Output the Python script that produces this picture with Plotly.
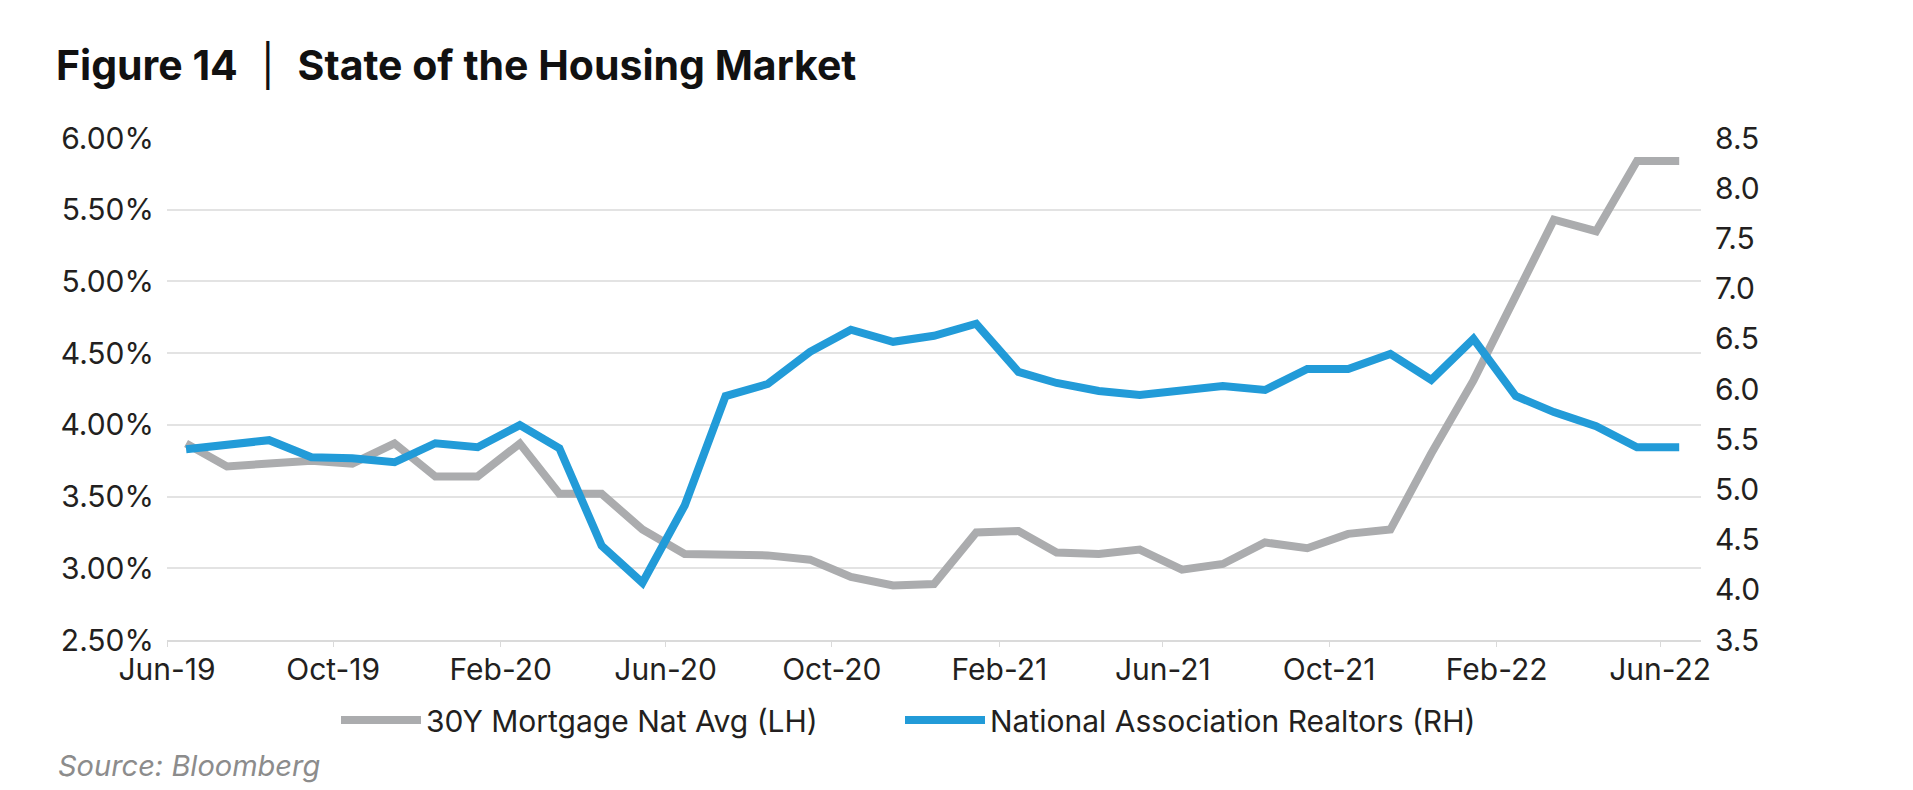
import plotly.graph_objects as go

# monthly observations, Jun-19 .. Jun-22 (plotted mid-month)
months = ['2019-06-15', '2019-07-15', '2019-08-15', '2019-09-15', '2019-10-15', '2019-11-15',
          '2019-12-15', '2020-01-15', '2020-02-15', '2020-03-15', '2020-04-15', '2020-05-15',
          '2020-06-15', '2020-07-15', '2020-08-15', '2020-09-15', '2020-10-15', '2020-11-15',
          '2020-12-15', '2021-01-15', '2021-02-15', '2021-03-15', '2021-04-15', '2021-05-15',
          '2021-06-15', '2021-07-15', '2021-08-15', '2021-09-15', '2021-10-15', '2021-11-15',
          '2021-12-15', '2022-01-15', '2022-02-15', '2022-03-15', '2022-04-15', '2022-05-15',
          '2022-06-15']

# 30Y mortgage national average, % (left axis)
mortgage = [3.87, 3.71, 3.73, 3.75, 3.73, 3.87, 3.64, 3.64, 3.87, 3.52, 3.52, 3.27,
            3.10, 3.10, 3.09, 3.06, 2.94, 2.88, 2.89, 3.25, 3.26, 3.11, 3.10, 3.13,
            2.99, 3.03, 3.18, 3.14, 3.24, 3.27, 3.80, 4.31, 4.90, 5.43, 5.35, 5.84,
            5.84]

# NAR existing home sales, mn (right axis)
realtors = [5.40, 5.45, 5.49, 5.32, 5.31, 5.27, 5.46, 5.42, 5.64, 5.41, 4.44, 4.07,
            4.84, 5.93, 6.05, 6.37, 6.59, 6.47, 6.53, 6.65, 6.17, 6.06, 5.98, 5.94,
            5.98, 6.03, 5.99, 6.20, 6.20, 6.35, 6.09, 6.50, 5.93, 5.77, 5.63, 5.42,
            5.42]

tick_dates = ['2019-06-01', '2019-10-01', '2020-02-01', '2020-06-01', '2020-10-01',
              '2021-02-01', '2021-06-01', '2021-10-01', '2022-02-01', '2022-06-01']
tick_text = ['Jun-19', 'Oct-19', 'Feb-20', 'Jun-20', 'Oct-20',
             'Feb-21', 'Jun-21', 'Oct-21', 'Feb-22', 'Jun-22']

GRAY = '#ABACAE'
BLUE = '#229BD8'
FONT = 'Inter, Roboto, Arial, sans-serif'

fig = go.Figure()
fig.add_trace(go.Scatter(x=months, y=mortgage, name='30Y Mortgage Nat Avg (LH)', mode='lines',
                         line=dict(color=GRAY, width=8), yaxis='y', legend='legend'))
fig.add_trace(go.Scatter(x=months, y=realtors, name='National Association Realtors (RH)', mode='lines',
                         line=dict(color=BLUE, width=8), yaxis='y2', legend='legend2'))

legend_style = dict(orientation='h', xanchor='left', yanchor='middle', y=-(712 - 632) / 502,
                    itemwidth=80, font=dict(size=30), bgcolor='rgba(0,0,0,0)')

fig.update_layout(
    width=1913, height=790,
    paper_bgcolor='white', plot_bgcolor='white',
    font=dict(family=FONT, size=30, color='#231F20'),
    margin=dict(l=159, r=220, t=130, b=158),
    title=dict(text='<b>Figure 14</b>  |  <b>State of the Housing Market</b>',
               font=dict(family=FONT, size=41, color='#111111'),
               xref='container', yref='container', x=48 / 1913, xanchor='left',
               y=1 - 58 / 790, yanchor='middle'),
    xaxis=dict(type='date', range=['2019-06-01', '2022-07-01'],
               tickvals=tick_dates, ticktext=tick_text,
               showgrid=False, showline=True, linecolor='#DADADA', linewidth=2,
               ticks='outside', ticklen=5, tickwidth=1, tickcolor='#DADADA',
               ticklabelstandoff=-3, tickfont=dict(size=30), zeroline=False),
    yaxis=dict(range=[2.5, 6.0], dtick=0.5, tickformat='.2f', ticksuffix='%',
               showgrid=True, gridcolor='#E3E3E3', gridwidth=2, zeroline=False,
               showline=False, ticklabelstandoff=12, tickfont=dict(size=30)),
    yaxis2=dict(range=[3.5, 8.5], dtick=0.5, tickformat='.1f', overlaying='y', side='right',
                showgrid=False, zeroline=False, showline=False, ticklabelstandoff=13,
                tickfont=dict(size=30)),
    legend=dict(x=169 / 1534, **legend_style),
    legend2=dict(x=733 / 1534, **legend_style),
    showlegend=True,
)

fig.add_annotation(text='<i>Source: Bloomberg</i>', xref='paper', yref='paper',
                   x=-(159 - 48) / 1534, xanchor='left',
                   y=-(757 - 632) / 502, yanchor='middle', showarrow=False,
                   font=dict(family=FONT, size=29, color='#8C8C8C'))

fig.write_html('out.html')
